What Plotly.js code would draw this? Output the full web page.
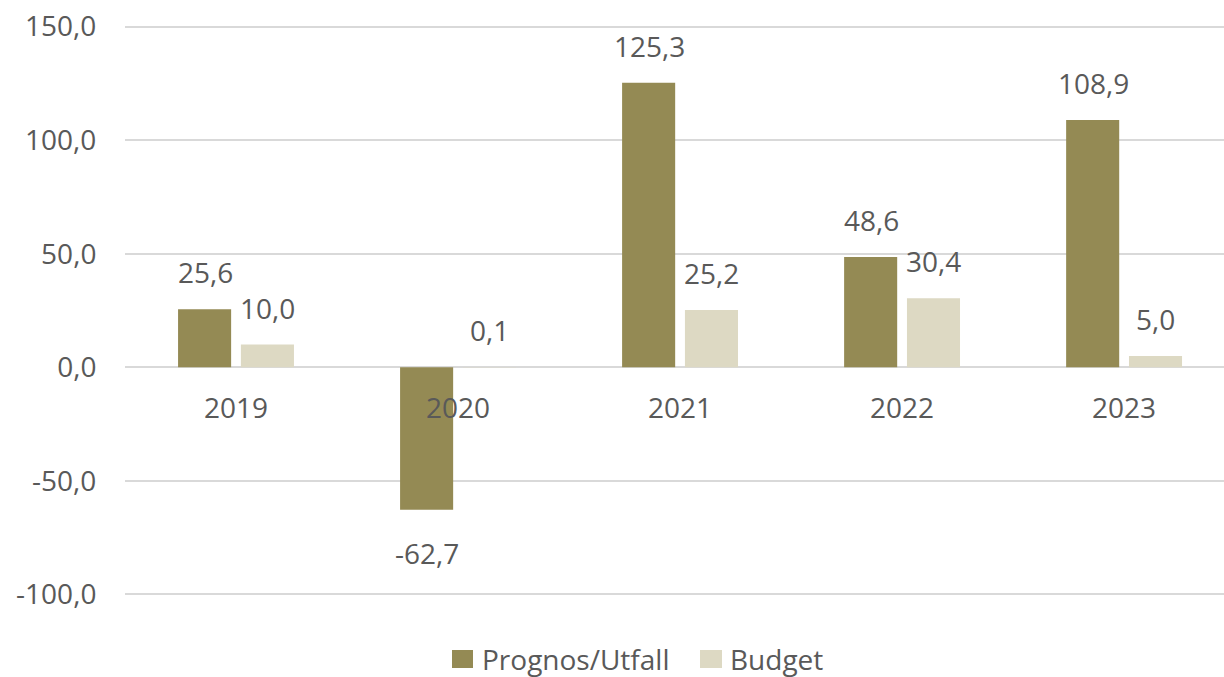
<!DOCTYPE html>
<html>
<head>
<meta charset="utf-8">
<script src="https://cdn.plot.ly/plotly-3.0.1.min.js"></script>
<style>html,body{margin:0;padding:0;background:#fff;}#chart{width:1224px;height:677px;}</style>
</head>
<body>
<div id="chart"></div>
<script>
const categories = ["2019", "2020", "2021", "2022", "2023"];
const prognosUtfall = [25.6, -62.7, 125.3, 48.6, 108.9];
const budget = [10.0, 0.1, 25.2, 30.4, 5.0];
const seriesNames = ["Prognos/Utfall", "Budget"];
const seriesColors = ["#948A54", "#DDD9C3"];
const yTickValues = [-100, -50, 0, 50, 100, 150];

const FONT = '"Open Sans", "Noto Sans", sans-serif';
const TXT = '#595959';
const FS = 28;
const BAR_W = 0.239;
const fmt = v => v.toFixed(1).replace('.', ',');

// plot-area geometry (pixels)
const M = {l: 125, r: 0, t: 22, b: 78};
const W = 1224, H = 677;
const Y_RANGE = [-102, 152];
const PW = W - M.l - M.r, PH = H - M.t - M.b;
const px2x = p => (p - M.l) / PW;
const px2y = p => (H - M.b - p) / PH;

const traces = [
  {type: 'bar', name: seriesNames[0], x: categories, y: prognosUtfall,
   width: BAR_W, offset: -0.261, marker: {color: seriesColors[0]}, showlegend: false},
  {type: 'bar', name: seriesNames[1], x: categories, y: budget,
   width: BAR_W, offset: 0.022, marker: {color: seriesColors[1]}, showlegend: false}
];

const annotations = [];
[prognosUtfall, budget].forEach((vals, si) => {
  vals.forEach((v, i) => {
    const neg = v < 0;
    annotations.push({
      x: i, y: v, xref: 'x', yref: 'y',
      xshift: si === 0 ? -31 : 31,
      yshift: neg ? -22 : 16,
      yanchor: neg ? 'top' : 'bottom',
      text: fmt(v), showarrow: false,
      font: {family: FONT, size: FS, color: TXT}
    });
  });
});

// legend (drawn as shapes + text so the swatch size matches)
const legendItems = [
  {sx0: 452, sx1: 473, tx: 481},
  {sx0: 700, sx1: 722, tx: 729}
];
const LEG_Y = 659;
const shapes = [];
legendItems.forEach((it, k) => {
  shapes.push({type: 'rect', xref: 'paper', yref: 'paper',
    x0: px2x(it.sx0), x1: px2x(it.sx1), y0: px2y(LEG_Y + 9), y1: px2y(LEG_Y - 9),
    fillcolor: seriesColors[k], line: {width: 0}});
  annotations.push({xref: 'paper', yref: 'paper', x: px2x(it.tx), y: px2y(LEG_Y),
    xanchor: 'left', yanchor: 'middle', showarrow: false, text: seriesNames[k],
    borderpad: 0, font: {family: FONT, size: FS, color: TXT}});
});

const layout = {
  width: W, height: H,
  margin: M,
  paper_bgcolor: '#ffffff', plot_bgcolor: '#ffffff',
  separators: ',.',
  font: {family: FONT, size: FS, color: TXT},
  barmode: 'group',
  showlegend: false,
  xaxis: {type: 'category', range: [-0.5, 4.45], anchor: 'free',
          position: (0 - Y_RANGE[0]) / (Y_RANGE[1] - Y_RANGE[0]),
          showgrid: false, showline: false, zeroline: false,
          ticks: 'outside', ticklen: 16, tickcolor: 'rgba(0,0,0,0)',
          tickfont: {family: FONT, size: FS, color: TXT}, fixedrange: true},
  yaxis: {range: Y_RANGE, tickvals: yTickValues, ticktext: yTickValues.map(fmt),
          showgrid: true, gridcolor: '#D9D9D9', gridwidth: 2,
          zeroline: true, zerolinecolor: '#D9D9D9', zerolinewidth: 2,
          showline: false, ticks: 'outside', ticklen: 22, tickcolor: 'rgba(0,0,0,0)',
          tickfont: {family: FONT, size: FS, color: TXT}, fixedrange: true},
  shapes: shapes,
  annotations: annotations
};

Plotly.newPlot('chart', traces, layout, {displayModeBar: false, staticPlot: true});
</script>
</body>
</html>
